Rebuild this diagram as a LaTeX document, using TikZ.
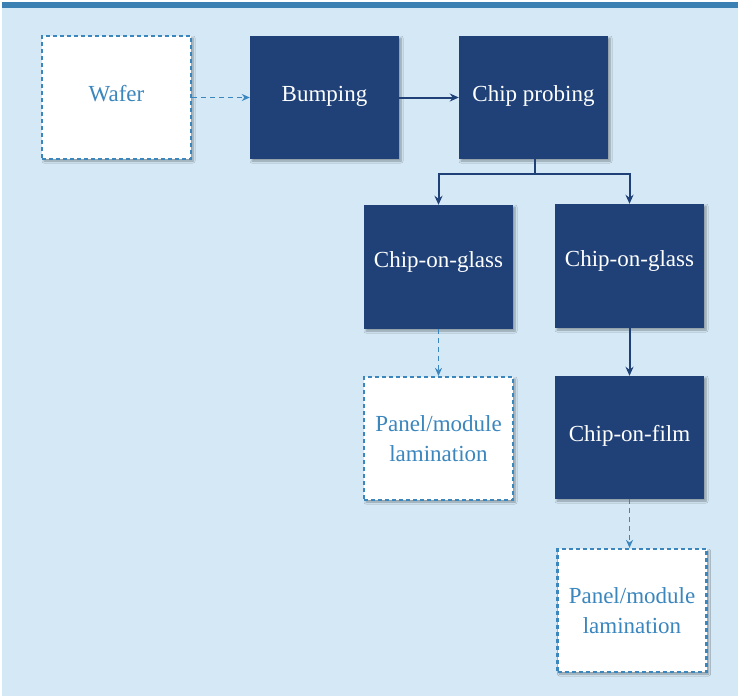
\documentclass[tikz,border=0pt]{standalone}
\usepackage{fontspec}
\setmainfont{Liberation Serif}
\usetikzlibrary{arrows.meta,shadows.blur}
\definecolor{bgblue}{HTML}{D4E8F6}
\definecolor{barblue}{HTML}{3A80B3}
\definecolor{darkbox}{HTML}{1F4178}
\definecolor{dashblue}{HTML}{3A86BD}
\tikzset{
  basebox/.style={minimum width=149pt, minimum height=123pt, inner sep=0pt, align=center,
    font=\fontsize{23}{30}\selectfont,
    blur shadow={shadow xshift=2pt, shadow yshift=-2pt, shadow blur steps=6, shadow opacity=35, shadow blur radius=2pt}},
  solidbox/.style={basebox, fill=darkbox, text=white},
  dashbox/.style={basebox, fill=white, draw=dashblue, line width=2.2pt, dash pattern=on 4pt off 3pt, text=dashblue},
  lowtext/.style={text height=16pt, text depth=9pt},
  midtext/.style={text height=16pt, text depth=15pt},
  solidarrow/.style={draw=darkbox, line width=2pt, -{Stealth[length=9pt,width=8pt]}},
  solidline/.style={draw=darkbox, line width=2pt},
  dasharrow/.style={draw=dashblue, line width=1.3pt, dash pattern=on 5pt off 4pt, -{Stealth[length=8pt,width=7pt]}},
}
\begin{document}
\begin{tikzpicture}[x=1pt,y=-1pt]
\useasboundingbox (0,0) rectangle (740,699);
\fill[bgblue] (2,8) rectangle (738,696);
\fill[barblue] (2,2) rectangle (738,8);
\node[dashbox, lowtext] (wafer) at (116.5,97.5) {Wafer};
\node[solidbox, lowtext] (bump) at (324.5,97.5) {Bumping};
\node[solidbox, lowtext] (probe) at (533.5,97.5) {Chip probing};
\node[solidbox, midtext, minimum height=124pt] (cogl) at (438.5,267) {Chip-on-glass};
\node[solidbox, midtext, minimum height=124pt] (cogr) at (629.5,266) {Chip-on-glass};
\node[dashbox] (panl) at (438.5,438.5) {Panel/module\\lamination};
\node[solidbox, lowtext] (cof) at (629.5,437.5) {Chip-on-film};
\node[dashbox] (panr) at (632,610.5) {Panel/module\\lamination};
\coordinate (split) at (535,174);
\draw[dasharrow] (wafer) -- (bump);
\draw[solidarrow] (bump) -- (probe);
\draw[solidline] (probe.south -| split) -- (split);
\draw[solidarrow] (split) -| (cogl.north);
\draw[solidarrow] (split) -| (cogr.north);
\draw[dasharrow] (cogl) -- (panl);
\draw[solidarrow] (cogr) -- (cof);
\draw[dasharrow] (cof.south) -- (cof.south |- panr.north);
\end{tikzpicture}
\end{document}
